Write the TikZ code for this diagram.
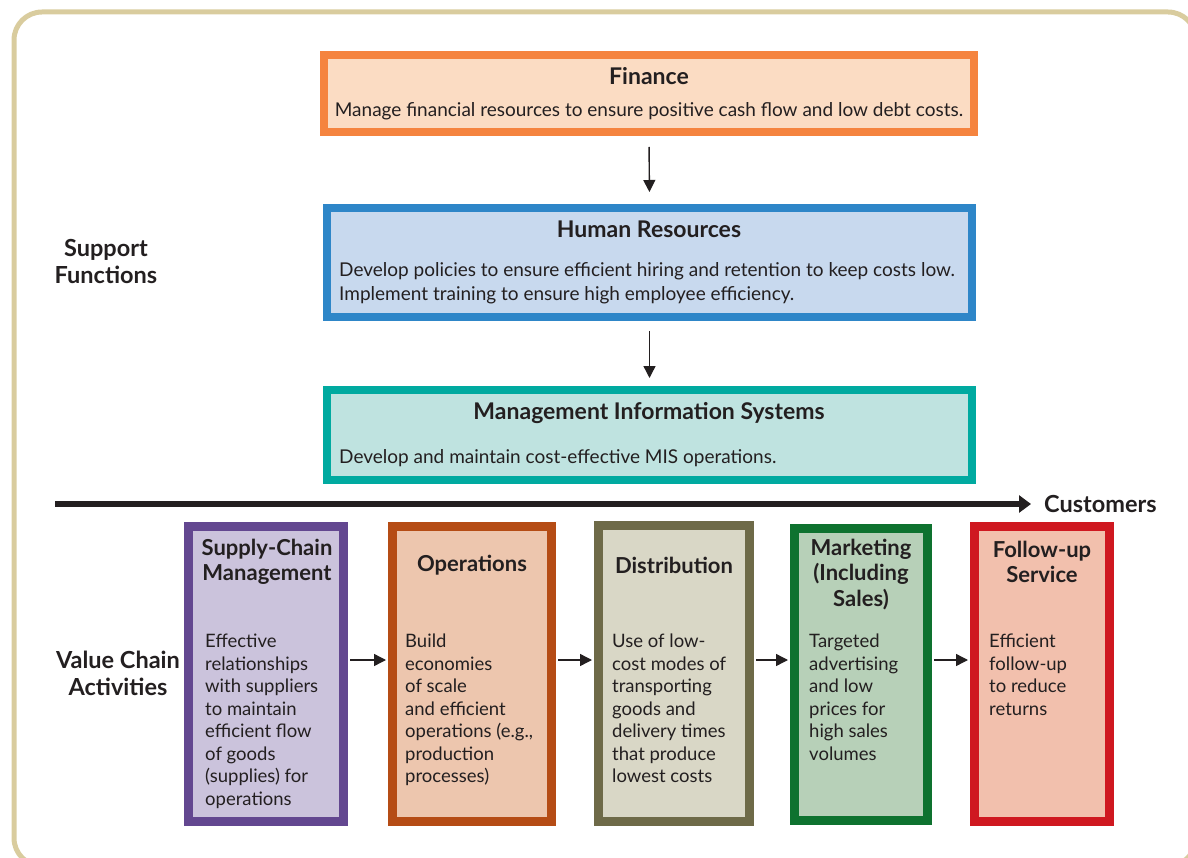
\documentclass[tikz,border=0pt]{standalone}
\usepackage{fontspec}
\setmainfont{Lato}
\usetikzlibrary{arrows.meta}

\definecolor{framecol}{HTML}{D9CC9E}
\definecolor{inkcol}{HTML}{231F20}
\definecolor{fincol}{HTML}{F5843F}  \definecolor{finfill}{HTML}{FBDCC3}
\definecolor{hrcol}{HTML}{2E86C8}   \definecolor{hrfill}{HTML}{C8D9EE}
\definecolor{miscol}{HTML}{00AAA0}  \definecolor{misfill}{HTML}{BFE3E0}
\definecolor{scmcol}{HTML}{634790}  \definecolor{scmfill}{HTML}{CBC3DC}
\definecolor{opscol}{HTML}{B54C15}  \definecolor{opsfill}{HTML}{EDC6AE}
\definecolor{discol}{HTML}{6E6A48}  \definecolor{disfill}{HTML}{D9D7C6}
\definecolor{mktcol}{HTML}{0E722F}  \definecolor{mktfill}{HTML}{B7D0B8}
\definecolor{fupcol}{HTML}{CF1820}  \definecolor{fupfill}{HTML}{F2C0AD}

\tikzset{
  supbox/.style={draw=#1, line width=8pt, inner sep=0pt},
  chainbox/.style={draw=#1, line width=9pt, inner sep=0pt, minimum height=295pt},
  suptitle/.style={font=\fontsize{23}{27}\selectfont\bfseries, align=center, text=inkcol, inner sep=0pt},
  boxtitle/.style={font=\fontsize{22}{25.5}\selectfont\bfseries, align=center, text=inkcol, inner sep=0pt},
  suptext/.style={font=\fontsize{19}{24}\selectfont, align=left, text=inkcol, inner sep=0pt},
  boxtext/.style={font=\fontsize{18.5}{22.5}\selectfont, align=left, text=inkcol, inner sep=0pt},
  sidelabel/.style={font=\fontsize{23.5}{27}\selectfont\bfseries, align=center, text=inkcol, inner sep=0pt},
  flow/.style={inkcol, line width=1.4pt, -{Triangle[length=12pt,width=12pt]}}
}

\begin{document}
\begin{tikzpicture}[x=1pt,y=-1pt]
\useasboundingbox (0,0) rectangle (1188,858);
\clip (0,0) rectangle (1188,858);

% frame
\draw[framecol, line width=5pt, rounded corners=28pt] (14,12) rectangle (1196,866);

% support functions
\node[supbox=fincol, fill=finfill, minimum width=650pt, minimum height=77pt] (finance) at (649,93.5) {};
\node[suptitle] (financet) at (649,76) {Finance};
\node[suptext, anchor=center] (financeb) at (649,111) {Manage financial resources to ensure positive cash flow and low debt costs.};

\node[supbox=hrcol, fill=hrfill, minimum width=645pt, minimum height=109pt] (hr) at (649.5,262.5) {};
\node[suptitle] (hrt) at (649,229) {Human Resources};
\node[suptext, anchor=west] (hrb) at (339,283) {Develop policies to ensure efficient hiring and retention to keep costs low.\\Implement training to ensure high employee efficiency.};

\node[supbox=miscol, fill=misfill, minimum width=645pt, minimum height=90pt] (mis) at (649.5,435) {};
\node[suptitle] (mist) at (649,413) {Management Information Systems};
\node[suptext, anchor=west] (misb) at (339,458) {Develop and maintain cost-effective MIS operations.};

\draw[flow, shorten <=11pt, shorten >=12pt] (finance.south) -- (hr.north);
\draw[flow, shorten <=10pt, shorten >=8pt] (hr.south) -- (mis.north);

\node[sidelabel] (support) at (106,261.5) {Support\\Functions};
\node[sidelabel] (valuechain) at (118,673.5) {Value Chain\\Activities};

% main flow to customers
\coordinate (start) at (55,504);
\node[font=\fontsize{23.5}{27}\selectfont\bfseries, text=inkcol, anchor=west, inner sep=0pt] (customers) at (1044,504) {Customers};
\draw[inkcol, line width=6pt, -{Triangle[length=12pt,width=17pt]}, shorten >=13pt] (start) -- (customers.west);

% value chain activities
\node[chainbox=scmcol, fill=scmfill, minimum width=155pt] (scm) at (266,674) {};
\node[chainbox=opscol, fill=opsfill, minimum width=159pt] (ops) at (472,674) {};
\node[chainbox=discol, fill=disfill, minimum width=151pt, minimum height=296pt] (dist) at (674,673.5) {};
\node[chainbox=mktcol, fill=mktfill, minimum width=133pt, minimum height=292pt] (mkt) at (861,674.5) {};
\node[chainbox=fupcol, fill=fupfill, minimum width=135pt] (fup) at (1042,674) {};

\node[boxtitle] (scmt) at (267,562) {Supply-Chain\\Management};
\node[boxtitle] (opst) at (472,565) {Operations};
\node[boxtitle] (distt) at (674,565) {Distribution};
\node[boxtitle] (mktt) at (861,574.5) {Marketing\\(Including\\Sales)};
\node[boxtitle] (fupt) at (1042,562) {Follow-up\\Service};

\node[boxtext, anchor=north west] (scmb) at (205,634) {Effective\\relationships\\with suppliers\\to maintain\\efficient flow\\of goods\\(supplies) for\\operations};
\node[boxtext, anchor=north west] (opsb) at (405,634) {Build\\economies\\of scale\\and efficient\\operations (e.g.,\\production\\processes)};
\node[boxtext, anchor=north west] (distb) at (612,634) {Use of low-\\cost modes of\\transporting\\goods and\\delivery times\\that produce\\lowest costs};
\node[boxtext, anchor=north west] (mktb) at (809,634) {Targeted\\advertising\\and low\\prices for\\high sales\\volumes};
\node[boxtext, anchor=north west] (fupb) at (989,634) {Efficient\\follow-up\\to reduce\\returns};

\coordinate (chainrow) at (0,660);
\foreach \a/\b in {scm/ops, ops/dist, dist/mkt, mkt/fup}
  \draw[flow, shorten <=2pt, shorten >=2pt] (\a.east |- chainrow) -- (\b.west |- chainrow);

\end{tikzpicture}
\end{document}
